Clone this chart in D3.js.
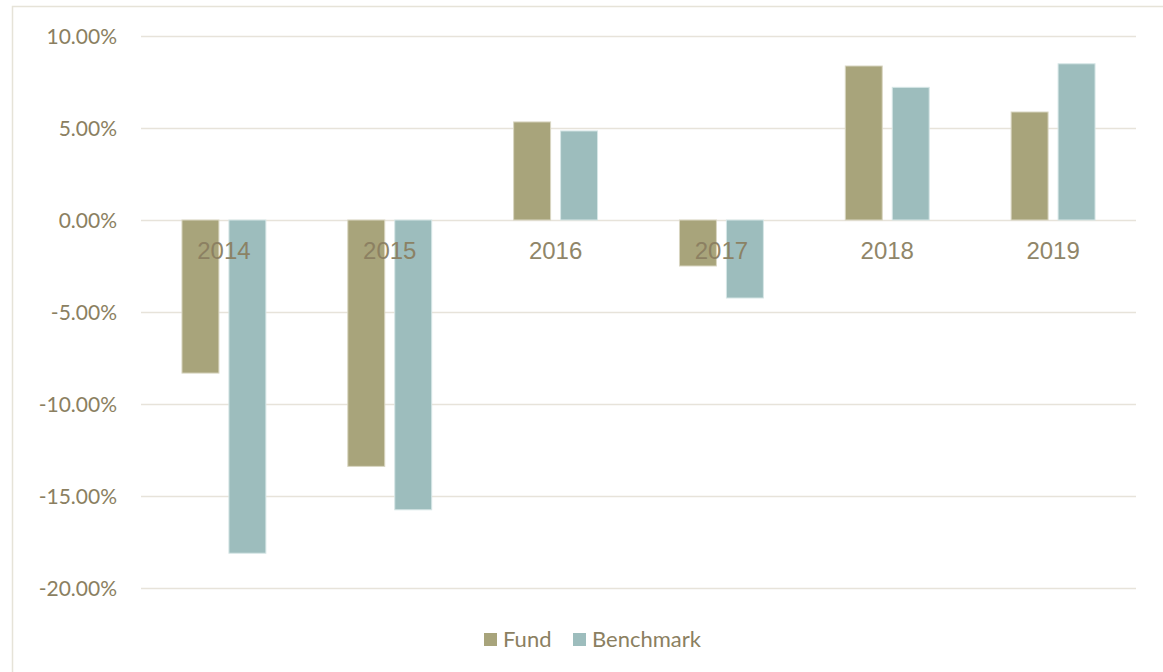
<!DOCTYPE html>
<html>
<head>
<meta charset="utf-8">
<script src="https://d3js.org/d3.v7.min.js"></script>
<style>
  body { margin: 0; background: #fff; }
  .grid line { stroke: #e7e3da; stroke-width: 1.5; }
  .grid .domain { display: none; }
  .yaxis text { fill: #8b7f61; font-family: Lato, sans-serif; font-size: 21px; }
  .yaxis line, .yaxis .domain { display: none; }
  .year { fill: #8b7f61; font-family: "Liberation Sans", Arial, sans-serif; font-size: 24px; opacity: 0.95; }
  .legend text { fill: #8b7f61; font-family: Lato, sans-serif; font-size: 22px; }
  .fund { fill: #a8a47b; stroke: #d9d6c2; }
  .bench { fill: #9dbdbd; stroke: #d6e6e6; }
</style>
</head>
<body>
<svg id="chart"></svg>
<script>
const years     = ['2014', '2015', '2016', '2017', '2018', '2019'];
const fund      = [-8.32, -13.39, 5.33, -2.50, 8.37, 5.87];
const benchmark = [-18.11, -15.75, 4.84, -4.24, 7.21, 8.49];
const tickVals  = [10, 5, 0, -5, -10, -15, -20];
const seriesNames = ['Fund', 'Benchmark'];

const WIDTH  = 1163;
const HEIGHT = 672;
const MARGIN = { top: 36, right: 27, bottom: 84, left: 141 };
const INNER_WIDTH  = WIDTH - MARGIN.left - MARGIN.right;
const INNER_HEIGHT = HEIGHT - MARGIN.top - MARGIN.bottom;

const root = d3.select('#chart')
  .attr('width', WIDTH)
  .attr('height', HEIGHT);

// outer frame
root.append('rect')
  .attr('x', 12.5)
  .attr('y', 6.5)
  .attr('width', WIDTH + 20)
  .attr('height', HEIGHT + 20)
  .style('fill', 'none')
  .style('stroke', '#e6e3d8')
  .style('stroke-width', 1.5);

const svg = root.append('g')
  .attr('transform', 'translate(' + MARGIN.left + ',' + MARGIN.top + ')');

const x = d3.scaleBand()
  .domain(years)
  .range([0, INNER_WIDTH]);

const inner = d3.scaleBand()
  .domain(seriesNames)
  .range([x.bandwidth() * 0.247, x.bandwidth() * 0.753])
  .paddingInner(0.213);

const y = d3.scaleLinear()
  .domain([-20, 10])
  .range([INNER_HEIGHT, 0]);

svg.append('g')
  .attr('class', 'grid')
  .call(d3.axisLeft(y).tickValues(tickVals).tickSize(-INNER_WIDTH).tickFormat(''));

svg.append('g')
  .attr('class', 'yaxis')
  .attr('transform', 'translate(-21,0)')
  .call(d3.axisLeft(y).tickValues(tickVals).tickSize(0).tickFormat(d => d.toFixed(2) + '%'))
  .selectAll('text').attr('dy', '0.35em');

const rows = years.map((yr, i) => ({ year: yr, Fund: fund[i], Benchmark: benchmark[i] }));

const groups = svg.selectAll('.grp')
  .data(rows)
  .enter().append('g')
    .attr('class', 'grp')
    .attr('transform', d => 'translate(' + x(d.year) + ',0)');

groups.selectAll('rect')
  .data(d => seriesNames.map(s => ({ key: s, value: d[s] })))
  .enter().append('rect')
    .attr('class', d => d.key === 'Fund' ? 'fund' : 'bench')
    .attr('x', d => inner(d.key))
    .attr('width', inner.bandwidth())
    .attr('y', d => y(Math.max(0, d.value)))
    .attr('height', d => Math.abs(y(d.value) - y(0)))
    .style('stroke-width', 1);

// category labels sit just under the zero line
svg.selectAll('.year')
  .data(years)
  .enter().append('text')
    .attr('class', 'year')
    .attr('x', d => x(d) + x.bandwidth() / 2)
    .attr('y', y(0) + 39)
    .attr('text-anchor', 'middle')
    .text(d => d);

// legend
const legend = root.append('g').attr('class', 'legend');
const legendX = [484, 573];
seriesNames.forEach((s, i) => {
  legend.append('rect')
    .attr('x', legendX[i])
    .attr('y', 633)
    .attr('width', 13)
    .attr('height', 13)
    .style('fill', s === 'Fund' ? '#a8a47b' : '#9dbdbd');
  legend.append('text')
    .attr('x', legendX[i] + 19)
    .attr('y', 647)
    .text(s);
});
</script>
</body>
</html>
